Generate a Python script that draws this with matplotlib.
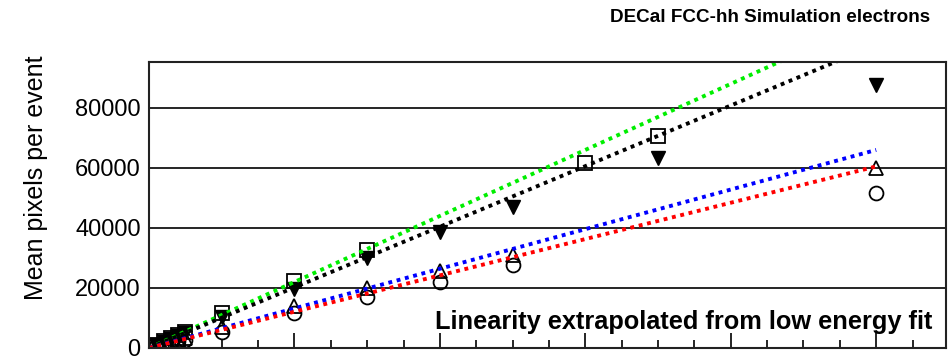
import matplotlib
matplotlib.use("Agg")
import matplotlib.pyplot as plt
from matplotlib.ticker import MultipleLocator

plt.rcParams["font.family"] = ["Liberation Sans", "DejaVu Sans"]

# beam energies (GeV) and mean pixel counts per configuration
energy_sq = [10, 20, 30, 40, 50, 100, 200, 300, 600, 700]
pixels_sq = [1100, 2200, 3300, 4300, 5400, 11500, 22300, 32700, 61500, 70600]

energy_tdown = [10, 20, 30, 40, 50, 100, 200, 300, 400, 500, 700, 1000]
pixels_tdown = [1000, 2000, 3000, 4000, 5000, 10300, 19500, 30000, 38700, 47000, 63300, 87500]

energy_tup = [10, 20, 30, 40, 50, 100, 200, 300, 400, 500, 1000]
pixels_tup = [650, 1300, 2000, 2600, 3300, 7000, 14000, 20000, 25500, 31000, 60000]

energy_circ = [10, 20, 30, 40, 50, 100, 200, 300, 400, 500, 1000]
pixels_circ = [550, 1100, 1650, 2200, 2700, 5300, 11700, 17000, 22000, 27700, 51700]

# straight-line extrapolations of the low energy fits
fit_energy = [0, 1000]
fit_green = [0, 110000]
fit_black = [0, 101000]
fit_blue = [0, 66000]
fit_red = [0, 60500]

fig = plt.figure(figsize=(9.48, 3.58), dpi=100)
ax = fig.add_axes([149 / 948, 10 / 358, 797 / 948, 286 / 358])

ax.plot(energy_sq, pixels_sq, ls="none", marker="s", ms=9.5, mfc="none", mec="black", mew=1.3)
ax.plot(energy_tdown, pixels_tdown, ls="none", marker="v", ms=10, mfc="black", mec="black")
ax.plot(energy_tup, pixels_tup, ls="none", marker="^", ms=10, mfc="none", mec="black", mew=1.3)
ax.plot(energy_circ, pixels_circ, ls="none", marker="o", ms=10, mfc="none", mec="black", mew=1.3)

dots = (0, (1, 1.2))
ax.plot(fit_energy, fit_green, color="#00ee00", lw=2.8, ls=dots)
ax.plot(fit_energy, fit_black, color="black", lw=2.8, ls=dots)
ax.plot(fit_energy, fit_blue, color="blue", lw=2.8, ls=dots)
ax.plot(fit_energy, fit_red, color="red", lw=2.8, ls=dots)

ax.set_xlim(0, 1096)
ax.set_ylim(0, 95300)
ax.xaxis.set_major_locator(MultipleLocator(200))
ax.xaxis.set_minor_locator(MultipleLocator(50))
ax.yaxis.set_major_locator(MultipleLocator(20000))
ax.tick_params(axis="x", which="major", direction="in", length=11, width=1.2, labelbottom=False)
ax.tick_params(axis="x", which="minor", direction="in", length=6, width=1.2)
ax.tick_params(axis="y", length=0, labelsize=17, pad=6)
ax.grid(axis="y", color="black", lw=1.2)
for s in ax.spines.values():
    s.set_linewidth(1.5)
    s.set_color("#222222")

ax.set_ylabel("Mean pixels per event", fontsize=18)
ax.yaxis.set_label_coords(-0.127, 0.594)

fig.text(930 / 948, 1 - 18 / 358, "DECal FCC-hh Simulation electrons",
         ha="right", va="center", fontsize=13.6, fontweight="bold")
fig.text(932 / 948, 1 - 322 / 358, "Linearity extrapolated from low energy fit",
         ha="right", va="center", fontsize=18.3, fontweight="bold")

fig.savefig("out.png", dpi=100)
